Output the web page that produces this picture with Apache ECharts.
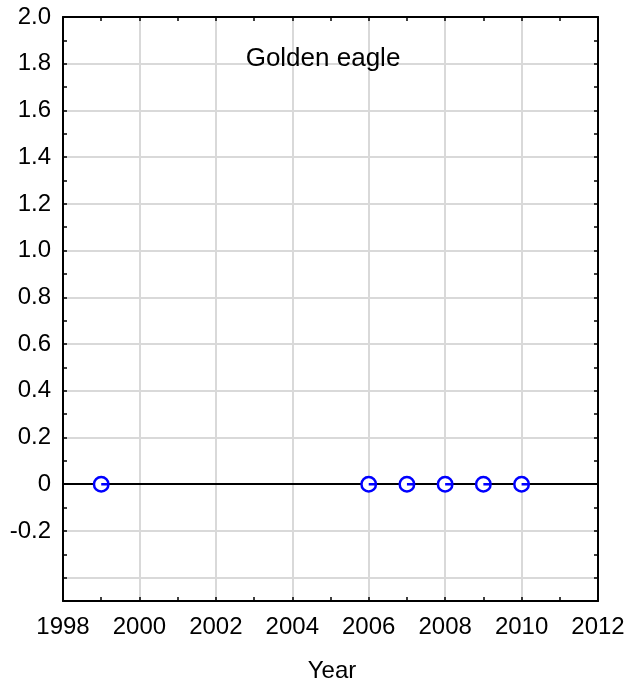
<!DOCTYPE html>
<html>
<head>
<meta charset="utf-8">
<script src="https://cdn.jsdelivr.net/npm/echarts@6/dist/echarts.min.js"></script>
<style>
html,body{margin:0;padding:0;background:#fff;}
#c{width:631px;height:688px;}
</style>
</head>
<body>
<div id="c"></div>
<script>
// ---- data ----
const years = [1999, 2006, 2007, 2008, 2009, 2010];
const values = [0, 0, 0, 0, 0, 0];
const xTickLabels = ['1998', '2000', '2002', '2004', '2006', '2008', '2010', '2012'];
const yTickLabels = ['-0.2', '0', '0.2', '0.4', '0.6', '0.8', '1.0', '1.2', '1.4', '1.6', '1.8', '2.0'];
const titleText = 'Golden eagle';
const xTitle = 'Year';

const FONT = "'Liberation Sans', Arial, sans-serif";
const chart = echarts.init(document.getElementById('c'), null, {renderer: 'canvas'});

function xLabel(v) {
  const y = Math.round(v);
  if ((y - 1998) % 2 !== 0) return '';
  return xTickLabels[(y - 1998) / 2] || '';
}
function yLabel(v) {
  const r = Math.round(v * 10);
  if (r % 2 !== 0 || r < -2) return '';
  return yTickLabels[(r + 2) / 2] || '';
}

const axisLine = {show: true, onZero: false, lineStyle: {color: '#000', width: 2}};
const tick = {show: true, inside: true, length: 4, lineStyle: {color: '#000', width: 1.5}};
const grid = '#d9d9d9';
const none = 'rgba(0,0,0,0)';

chart.setOption({
  animation: false,
  backgroundColor: '#fff',
  grid: {left: 63, right: 33, top: 17, bottom: 87, containLabel: false},
  xAxis: [{
    type: 'value', min: 1998, max: 2012, interval: 1, position: 'bottom',
    axisLine: axisLine, axisTick: tick,
    axisLabel: {formatter: xLabel, fontSize: 24, fontFamily: FONT, color: '#000', margin: 14, showMinLabel: true, showMaxLabel: true},
    splitLine: {show: true, lineStyle: {color: [grid, none], width: 2}}
  }, {
    type: 'value', min: 1998, max: 2012, interval: 1, position: 'top',
    axisLine: axisLine, axisTick: tick, axisLabel: {show: false}, splitLine: {show: false}
  }],
  yAxis: [{
    type: 'value', min: -0.5, max: 2.0, interval: 0.1, position: 'left',
    axisLine: axisLine, axisTick: tick,
    axisLabel: {formatter: yLabel, fontSize: 24, fontFamily: FONT, color: '#000', margin: 12, showMinLabel: true, showMaxLabel: true},
    splitLine: {show: true, lineStyle: {color: [none, grid], width: 2}}
  }, {
    type: 'value', min: -0.5, max: 2.0, interval: 0.1, position: 'right',
    axisLine: axisLine, axisTick: tick, axisLabel: {show: false}, splitLine: {show: false}
  }],
  graphic: [{
    type: 'text', z: 100,
    style: {text: titleText, x: 323, y: 59, fontSize: 26, fontFamily: FONT, fill: '#000', align: 'center', verticalAlign: 'middle'}
  }, {
    type: 'text', z: 100,
    style: {text: xTitle, x: 332, y: 671, fontSize: 24, fontFamily: FONT, fill: '#000', align: 'center', verticalAlign: 'middle'}
  }],
  series: [{
    type: 'line', data: [], z: 2, silent: true,
    markLine: {
      silent: true, symbol: 'none', label: {show: false},
      lineStyle: {color: '#000', width: 2, type: 'solid'},
      data: [{yAxis: 0}]
    }
  }, {
    type: 'scatter', z: 5,
    data: years.map((y, i) => [y, values[i]]),
    symbol: 'path://M10,0A10,10,0,1,1,-10,0A10,10,0,1,1,10,0ZM0,0L10,0',
    symbolSize: 14.5,
    itemStyle: {color: '#fff', borderColor: '#0000ff', borderWidth: 2.5, opacity: 1}
  }]
});
</script>
</body>
</html>
